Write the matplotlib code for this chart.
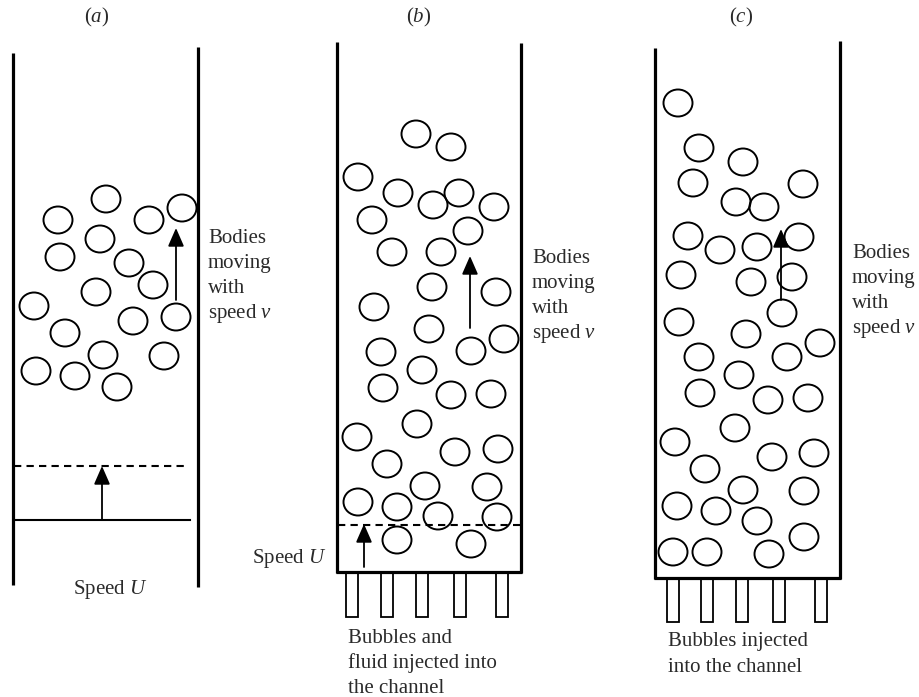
import matplotlib
matplotlib.use('Agg')
from matplotlib import pyplot as plt
from matplotlib.patches import Ellipse, Rectangle

plt.rcParams['font.family'] = ['Liberation Serif', 'DejaVu Serif']
plt.rcParams['mathtext.fontset'] = 'custom'
plt.rcParams['mathtext.rm'] = 'Liberation Serif'
plt.rcParams['mathtext.it'] = 'Liberation Serif:italic'

# Bubble centres (x, y) for each channel in pixels
bubbles_a_x = [106, 58, 149, 182, 100, 60, 129, 153, 96, 34, 133, 176, 65, 103, 164, 36, 75, 117]
bubbles_a_y = [199, 220, 220, 208, 239, 257, 263, 285, 292, 306, 321, 317, 333, 355, 356, 371, 376, 387]

bubbles_b_x = [416, 451, 358, 398, 433, 459, 494, 372, 468, 392, 441, 432, 496, 374, 429, 504,
               381, 471, 422, 383, 451, 491, 417, 357, 455, 498, 387, 425, 487, 358, 397, 438,
               497, 397, 471]
bubbles_b_y = [134, 147, 177, 193, 205, 193, 207, 220, 231, 252, 252, 287, 292, 307, 329, 339,
               352, 351, 370, 388, 395, 394, 424, 437, 452, 449, 464, 486, 487, 502, 507, 516,
               517, 540, 544]

bubbles_c_x = [678, 699, 743, 693, 803, 736, 764, 688, 720, 757, 799, 681, 751, 792, 782, 679,
               746, 820, 699, 787, 739, 700, 768, 808, 735, 675, 772, 814, 705, 743, 804, 677,
               716, 757, 804, 673, 707, 769]
bubbles_c_y = [103, 148, 162, 183, 184, 202, 207, 236, 250, 247, 237, 275, 282, 277, 313, 322,
               334, 343, 357, 357, 375, 393, 400, 398, 428, 442, 457, 453, 469, 490, 491, 506,
               511, 521, 537, 552, 552, 554]

# Injector tube centres under channels (b) and (c)
tubes_b_x = [352, 387, 422, 460, 502]
tubes_c_x = [673, 707, 742, 779, 821]

titles = ['($a$)', '($b$)', '($c$)']
title_x = [97, 419, 741]

bodies_lines = ['Bodies', 'moving', 'with', 'speed $v$']
bodies_x = [208, 532, 852]
bodies_y0 = [243, 263, 258]

inject_b_lines = ['Bubbles and', 'fluid injected into', 'the channel']
inject_c_lines = ['Bubbles injected', 'into the channel']

fig = plt.figure(figsize=(9.2, 6.97), dpi=100)
ax = fig.add_axes([0, 0, 1, 1])
ax.set_xlim(0, 920)
ax.set_ylim(697, 0)
ax.axis('off')

wall = dict(color='black', lw=2.3, solid_capstyle='butt')
txt = dict(color='#2a2a2a', fontsize=15)

# channel walls
ax.plot([13, 13], [53, 585], **wall)
ax.plot([198, 198], [47, 587], **wall)
ax.plot([337, 337], [42, 573], **wall)
ax.plot([521, 521], [43, 573], **wall)
ax.plot([336, 522], [572, 572], **wall)
ax.plot([655, 655], [48, 579], **wall)
ax.plot([840, 840], [41, 579], **wall)
ax.plot([654, 841], [578, 578], **wall)

# bubbles
for xs, ys in ((bubbles_a_x, bubbles_a_y), (bubbles_b_x, bubbles_b_y), (bubbles_c_x, bubbles_c_y)):
    for x, y in zip(xs, ys):
        ax.add_patch(Ellipse((x, y), 29, 27, fill=False, ec='black', lw=1.4))

# injector tubes
for x in tubes_b_x:
    ax.add_patch(Rectangle((x - 6, 573), 12, 44, fill=False, ec='black', lw=1.3))
for x in tubes_c_x:
    ax.add_patch(Rectangle((x - 6, 579), 12, 43, fill=False, ec='black', lw=1.3))

# fronts
ax.plot([14, 188], [466, 466], color='black', lw=1.5, linestyle=(0, (3.5, 2.5)))
ax.plot([15, 190], [520, 520], color='black', lw=1.5)
ax.plot([338, 520], [525, 525], color='black', lw=1.5, linestyle=(0, (3.5, 2.5)))

# arrows
arrows = [((102, 520), (102, 466)), ((364, 567), (364, 524)),
          ((176, 300), (176, 228)), ((470, 328), (470, 256)), ((781, 300), (781, 229))]
for tail, tip in arrows:
    ax.annotate('', xy=tip, xytext=tail,
                arrowprops=dict(arrowstyle='-|>,head_length=0.8,head_width=0.35',
                                mutation_scale=14, lw=1.3, color='black',
                                shrinkA=0, shrinkB=0))

# labels
for t, x in zip(titles, title_x):
    ax.text(x, 17, t, ha='center', va='center', **txt)
for x, y0 in zip(bodies_x, bodies_y0):
    for i, line in enumerate(bodies_lines):
        ax.text(x, y0 + 25 * i, line, ha='left', va='baseline', **txt)
ax.text(110, 594, 'Speed $U$', ha='center', va='baseline', **txt)
ax.text(326, 563, 'Speed $U$', ha='right', va='baseline', **txt)
for i, line in enumerate(inject_b_lines):
    ax.text(348, 643 + 25 * i, line, ha='left', va='baseline', **txt)
for i, line in enumerate(inject_c_lines):
    ax.text(668, 646 + 26 * i, line, ha='left', va='baseline', **txt)

fig.savefig('out.png', dpi=100)
